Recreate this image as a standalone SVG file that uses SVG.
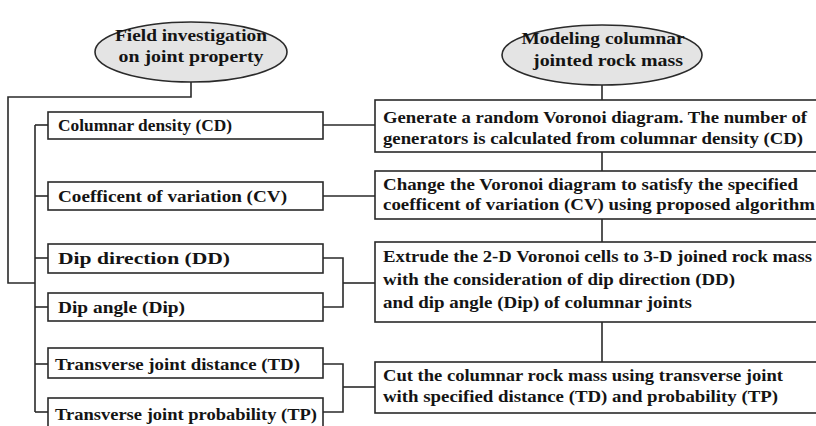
<svg xmlns="http://www.w3.org/2000/svg" width="816" height="426" viewBox="0 0 816 426">
  <style>
    .box { fill: #ffffff; stroke: #2a2a2a; stroke-width: 1.6; }
    .oval { fill: #e4e4e4; stroke: #2a2a2a; stroke-width: 1.6; }
    .wire { fill: none; stroke: #2a2a2a; stroke-width: 1.6; }
    text { font-family: "Liberation Serif", "DejaVu Serif", serif; font-weight: bold; fill: #141414; }
    .head { font-size: 17px; text-anchor: middle; }
    .lbl { font-size: 17px; }
    .step { font-size: 17.5px; }
  </style>
  <rect width="816" height="426" fill="#ffffff"/>

  <!-- connectors -->
  <g id="connectors" class="wire">
    <!-- field heading to parameter trunk -->
    <polyline points="191,82 191,97 8,97 8,283 35,283"/>
    <line x1="35" y1="125" x2="35" y2="412"/>
    <line x1="35" y1="125" x2="48" y2="125"/>
    <line x1="35" y1="196" x2="48" y2="196"/>
    <line x1="35" y1="258" x2="48" y2="258"/>
    <line x1="35" y1="307" x2="48" y2="307"/>
    <line x1="35" y1="364" x2="48" y2="364"/>
    <line x1="35" y1="412" x2="48" y2="412"/>
    <!-- parameters to modeling steps -->
    <line x1="323" y1="125" x2="375" y2="125"/>
    <line x1="323" y1="196" x2="375" y2="196"/>
    <polyline points="323,258 343,258 343,307 323,307"/>
    <line x1="343" y1="283" x2="375" y2="283"/>
    <polyline points="323,364 343,364 343,412 323,412"/>
    <line x1="343" y1="387" x2="375" y2="387"/>
    <!-- modeling sequence -->
    <line x1="602" y1="85" x2="602" y2="100"/>
    <line x1="602" y1="152" x2="602" y2="171"/>
    <line x1="602" y1="219" x2="602" y2="242"/>
    <line x1="602" y1="322" x2="602" y2="362"/>
  </g>

  <!-- headings -->
  <g id="field-investigation">
    <ellipse class="oval" cx="191" cy="52" rx="96" ry="30"/>
    <text class="head" x="191" y="41" textLength="152" lengthAdjust="spacingAndGlyphs">Field investigation</text>
    <text class="head" x="191" y="62" textLength="145" lengthAdjust="spacingAndGlyphs">on joint property</text>
  </g>
  <g id="modeling">
    <ellipse class="oval" cx="602" cy="55" rx="100" ry="30"/>
    <text class="head" x="603" y="44" textLength="163" lengthAdjust="spacingAndGlyphs">Modeling columnar</text>
    <text class="head" x="608" y="66" textLength="150" lengthAdjust="spacingAndGlyphs">jointed rock mass</text>
  </g>

  <!-- joint parameters -->
  <g id="cd">
    <rect class="box" x="48" y="112" width="275" height="27"/>
    <text class="lbl" x="58" y="131" textLength="174" lengthAdjust="spacingAndGlyphs">Columnar density (CD)</text>
  </g>
  <g id="cv">
    <rect class="box" x="48" y="182" width="275" height="28"/>
    <text class="lbl" x="58" y="202" textLength="229" lengthAdjust="spacingAndGlyphs">Coefficent of variation (CV)</text>
  </g>
  <g id="dd">
    <rect class="box" x="48" y="244" width="275" height="29"/>
    <text class="lbl" x="58" y="264" textLength="172" lengthAdjust="spacingAndGlyphs">Dip direction (DD)</text>
  </g>
  <g id="dip">
    <rect class="box" x="48" y="293" width="275" height="28"/>
    <text class="lbl" x="58" y="313" textLength="127" lengthAdjust="spacingAndGlyphs">Dip angle (Dip)</text>
  </g>
  <g id="td">
    <rect class="box" x="48" y="348" width="275" height="30"/>
    <text class="lbl" x="55" y="370" textLength="245" lengthAdjust="spacingAndGlyphs">Transverse joint distance (TD)</text>
  </g>
  <g id="tp">
    <rect class="box" x="48" y="398" width="275" height="32"/>
    <text class="lbl" x="55" y="420" textLength="262" lengthAdjust="spacingAndGlyphs">Transverse joint probability (TP)</text>
  </g>

  <!-- modeling steps -->
  <g id="step-generate">
    <rect class="box" x="375" y="100" width="445" height="52"/>
    <text class="step" x="383" y="123" textLength="424" lengthAdjust="spacingAndGlyphs">Generate a random Voronoi diagram. The number of</text>
    <text class="step" x="383" y="144" textLength="420" lengthAdjust="spacingAndGlyphs">generators is calculated from columnar density (CD)</text>
  </g>
  <g id="step-change">
    <rect class="box" x="375" y="171" width="445" height="48"/>
    <text class="step" x="383" y="190" textLength="415" lengthAdjust="spacingAndGlyphs">Change the Voronoi diagram to satisfy the specified</text>
    <text class="step" x="383" y="210" textLength="432" lengthAdjust="spacingAndGlyphs">coefficent of variation (CV) using proposed algorithm</text>
  </g>
  <g id="step-extrude">
    <rect class="box" x="375" y="242" width="445" height="80"/>
    <text class="step" x="383" y="262" textLength="429" lengthAdjust="spacingAndGlyphs">Extrude the 2-D Voronoi cells to 3-D joined rock mass</text>
    <text class="step" x="383" y="285" textLength="352" lengthAdjust="spacingAndGlyphs">with the consideration of dip direction (DD)</text>
    <text class="step" x="383" y="308" textLength="309" lengthAdjust="spacingAndGlyphs">and dip angle (Dip) of columnar joints</text>
  </g>
  <g id="step-cut">
    <rect class="box" x="375" y="362" width="445" height="51"/>
    <text class="step" x="383" y="381" textLength="400" lengthAdjust="spacingAndGlyphs">Cut the columnar rock mass using transverse joint</text>
    <text class="step" x="383" y="402" textLength="395" lengthAdjust="spacingAndGlyphs">with specified distance (TD) and probability (TP)</text>
  </g>
</svg>
